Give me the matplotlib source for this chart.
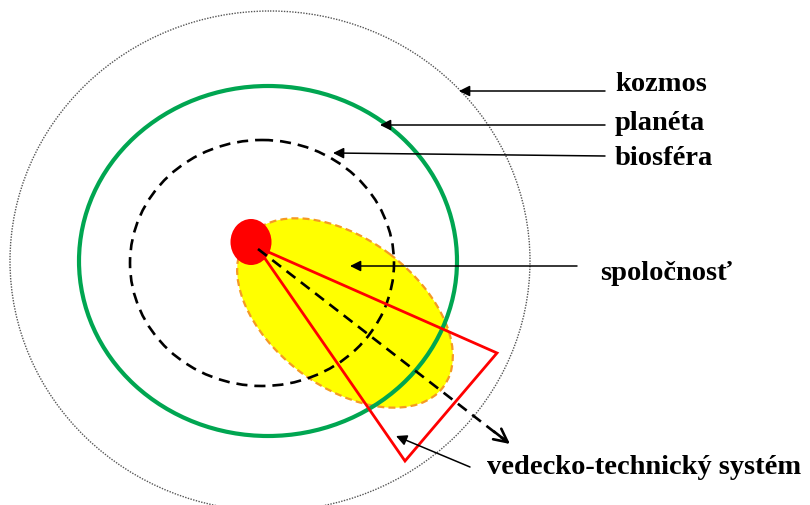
import matplotlib.pyplot as plt
from matplotlib.patches import Ellipse, Polygon

plt.rcParams['lines.scale_dashes'] = False

# geometry (pixel coords, y downwards)
# rings: centre x, centre y, width, height
kozmos_ring = (270, 262, 520, 500)
planeta_ring = (268, 262, 378, 350)
biosfera_ring = (262, 264, 264, 246)
spolocnost_ell = (345, 314, 246, 148, 37)   # cx, cy, w, h, angle
core_dot = (251, 243, 41, 46)
vts_triangle = [(257, 248), (497, 354), (405, 462)]
vts_axis = [(258, 250), (510, 445)]

labels = ['kozmos', 'planéta', 'biosféra', 'spoločnosť', 'vedecko-technický systém']
label_xy = [(615, 84), (615, 123), (615, 158), (600, 273), (487, 468)]
arrow_from = [(605, 92), (605, 126), (605, 157), (577, 267), (470, 468)]
arrow_to = [(459, 92), (380, 126), (333, 154), (350, 267), (396, 437)]

fig = plt.figure(figsize=(8.1, 5.06), dpi=100)
ax = fig.add_axes([0, 0, 1, 1])
ax.set_xlim(0, 810)
ax.set_ylim(506, 0)
ax.axis('off')

# society (yellow ellipse) sits underneath everything
cx, cy, w, h, ang = spolocnost_ell
ax.add_patch(Ellipse((cx, cy), w, h, angle=ang, facecolor='#ffff00',
                     edgecolor='#f59a23', lw=1.6, linestyle=(0, (5, 3)), zorder=1))

cx, cy, w, h = kozmos_ring
ax.add_patch(Ellipse((cx, cy), w, h, fill=False, edgecolor='#555555',
                     lw=1.0, linestyle=(0, (1, 1)), zorder=2))
cx, cy, w, h = planeta_ring
ax.add_patch(Ellipse((cx, cy), w, h, fill=False, edgecolor='#00a651',
                     lw=3.0, zorder=3))
cx, cy, w, h = biosfera_ring
ax.add_patch(Ellipse((cx, cy), w, h, fill=False, edgecolor='black',
                     lw=1.9, linestyle=(0, (8, 5)), zorder=3))

ax.add_patch(Polygon(vts_triangle, closed=True, fill=False, edgecolor='#ff0000',
                     lw=2.0, zorder=4))

cx, cy, w, h = core_dot
ax.add_patch(Ellipse((cx, cy), w, h, facecolor='#ff0000', edgecolor='none', zorder=5))

# dashed direction arrow of the technical system
(x0, y0), (x1, y1) = vts_axis
ax.plot([x0, x1 - 4], [y0, y1 - 3], color='black', lw=1.9,
        linestyle=(0, (8, 5)), zorder=6)
ax.annotate('', xy=(x1, y1), xytext=(x1 - 16, y1 - 12.5),
            arrowprops=dict(arrowstyle='->', color='black', lw=1.9,
                            mutation_scale=24, shrinkA=0, shrinkB=0), zorder=6)

# label arrows and texts
for txt, (tx, ty), p0, p1 in zip(labels, label_xy, arrow_from, arrow_to):
    ax.annotate('', xy=p1, xytext=p0,
                arrowprops=dict(arrowstyle='-|>', color='black', lw=1.1,
                                mutation_scale=16, shrinkA=0, shrinkB=0), zorder=7)
    ax.text(tx, ty, txt, fontsize=20.5, fontweight='bold',
            family='Liberation Serif', ha='left', va='center', color='black')

fig.savefig('out.png', dpi=100)
